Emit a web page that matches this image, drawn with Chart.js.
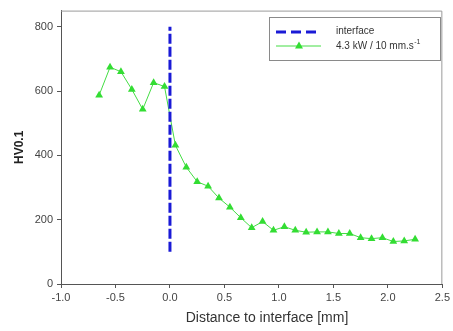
<!DOCTYPE html>
<html>
<head>
<meta charset="utf-8">
<script src="https://cdn.jsdelivr.net/npm/chart.js@4/dist/chart.umd.min.js"></script>
<style>
  html, body { margin: 0; padding: 0; background: #fff; }
  #wrap { width: 453px; height: 331px; }
</style>
</head>
<body>
<div id="wrap"><canvas id="hardness" width="453" height="331"></canvas></div>
<script>
// distance to interface [mm] and microhardness HV0.1
const distance = [-0.65, -0.55, -0.45, -0.35, -0.25, -0.15, -0.05, 0.05, 0.15, 0.25, 0.35, 0.45,
                  0.55, 0.65, 0.75, 0.85, 0.95, 1.05, 1.15, 1.25, 1.35, 1.45, 1.55, 1.65,
                  1.75, 1.85, 1.95, 2.05, 2.15, 2.25];
const hardness = [587, 674, 660, 605, 543, 626, 614, 431, 363, 318, 304, 267,
                  239, 206, 175, 194, 167, 178, 167, 161, 162, 162, 157, 157,
                  144, 141, 144, 132, 134, 139];

// interface marker
const interfaceX = [0, 0];
const interfaceY = [100, 800];

const xTicks = [-1.0, -0.5, 0.0, 0.5, 1.0, 1.5, 2.0, 2.5];
const yTicks = [0, 200, 400, 600, 800];

const xTitle = 'Distance to interface [mm]';
const seriesLabel = '4.3 kW / 10 mm.s';
const seriesSup = '-1';
const GREEN = '#44dd44';
const BLUE = '#1a1ad6';
const AXIS = '#555555';
const FONT = '"Liberation Sans", Arial, sans-serif';

const toPoints = (xs, ys) => xs.map((x, i) => ({ x: x, y: ys[i] }));

// frame on top / right, x title and the boxed legend inside the plot
const frameLegendPlugin = {
    id: 'frameLegend',
    afterDraw: (chart) => {
        const { ctx, chartArea: { left, right, top, bottom } } = chart;
        ctx.save();
        ctx.strokeStyle = '#9a9a9a';
        ctx.lineWidth = 1;
        ctx.beginPath();
        ctx.moveTo(left, top + 0.5);
        ctx.lineTo(right - 0.5, top + 0.5);
        ctx.lineTo(right - 0.5, bottom);
        ctx.stroke();

        // x axis title, sits a bit right of centre in the original
        ctx.fillStyle = '#333333';
        ctx.font = '14px ' + FONT;
        ctx.textAlign = 'center';
        ctx.textBaseline = 'middle';
        ctx.fillText(xTitle, 267, 318);
        ctx.textAlign = 'left';

        // legend box
        const bx = 269.5, by = 17.5, bw = 171, bh = 43;
        ctx.fillStyle = '#ffffff';
        ctx.fillRect(bx, by, bw, bh);
        ctx.strokeStyle = '#8a8a8a';
        ctx.strokeRect(bx, by, bw, bh);

        const ds = chart.data.datasets;
        // interface entry
        ctx.strokeStyle = ds[0].borderColor;
        ctx.lineWidth = 3;
        ctx.setLineDash([10, 5]);
        ctx.beginPath();
        ctx.moveTo(276, 32);
        ctx.lineTo(321, 32);
        ctx.stroke();
        ctx.setLineDash([]);

        // series entry
        ctx.strokeStyle = ds[1].borderColor;
        ctx.lineWidth = 1;
        ctx.beginPath();
        ctx.moveTo(276, 46);
        ctx.lineTo(321, 46);
        ctx.stroke();
        ctx.fillStyle = ds[1].pointBackgroundColor;
        ctx.beginPath();
        ctx.moveTo(299, 41.5);
        ctx.lineTo(303, 48.5);
        ctx.lineTo(295, 48.5);
        ctx.closePath();
        ctx.fill();

        ctx.fillStyle = '#333333';
        ctx.font = '10px ' + FONT;
        ctx.fillText(ds[0].label, 336, 31);
        ctx.fillText(seriesLabel, 336, 46);
        const w = ctx.measureText(seriesLabel).width;
        ctx.font = '7px ' + FONT;
        ctx.fillText(seriesSup, 336 + w + 0.5, 42);
        ctx.restore();
    }
};

new Chart(document.getElementById('hardness'), {
    type: 'line',
    data: {
        datasets: [{
            label: 'interface',
            data: toPoints(interfaceX, interfaceY),
            borderColor: BLUE,
            borderWidth: 3,
            borderDash: [10, 3],
            pointRadius: 0,
            fill: false
        }, {
            label: seriesLabel,
            data: toPoints(distance, hardness),
            borderColor: GREEN,
            borderWidth: 1,
            pointStyle: 'triangle',
            pointRadius: 4.5,
            pointBackgroundColor: '#33dd33',
            pointBorderColor: '#33dd33',
            pointBorderWidth: 0,
            tension: 0,
            fill: false
        }]
    },
    options: {
        responsive: false,
        animation: false,
        events: [],
        layout: { padding: { left: 0, right: 6, top: 6, bottom: 0 } },
        plugins: { legend: { display: false }, tooltip: { enabled: false } },
        scales: {
            x: {
                type: 'linear',
                min: -1,
                max: 2.5,
                afterBuildTicks: (s) => { s.ticks = xTicks.map(v => ({ value: v })); },
                afterFit: (s) => { s.height = 47; },
                border: { display: true, color: AXIS, width: 1 },
                grid: { drawOnChartArea: false, drawTicks: true, tickLength: 4, color: AXIS },
                ticks: {
                    padding: 3,
                    color: '#444444',
                    font: { family: FONT, size: 11 },
                    maxRotation: 0,
                    callback: (v) => Number(v).toFixed(1)
                }
            },
            y: {
                min: 0,
                max: 850,
                afterBuildTicks: (s) => { s.ticks = yTicks.map(v => ({ value: v })); },
                afterFit: (s) => { s.width = 61; },
                border: { display: true, color: AXIS, width: 1 },
                grid: { drawOnChartArea: false, drawTicks: true, tickLength: 4, color: AXIS },
                ticks: {
                    padding: 4,
                    color: '#444444',
                    font: { family: FONT, size: 11 }
                },
                title: {
                    display: true,
                    text: 'HV0.1',
                    color: '#222222',
                    font: { family: FONT, size: 12, weight: 'bold' },
                    padding: { top: 12, bottom: 0 }
                }
            }
        }
    },
    plugins: [frameLegendPlugin]
});
</script>
</body>
</html>
